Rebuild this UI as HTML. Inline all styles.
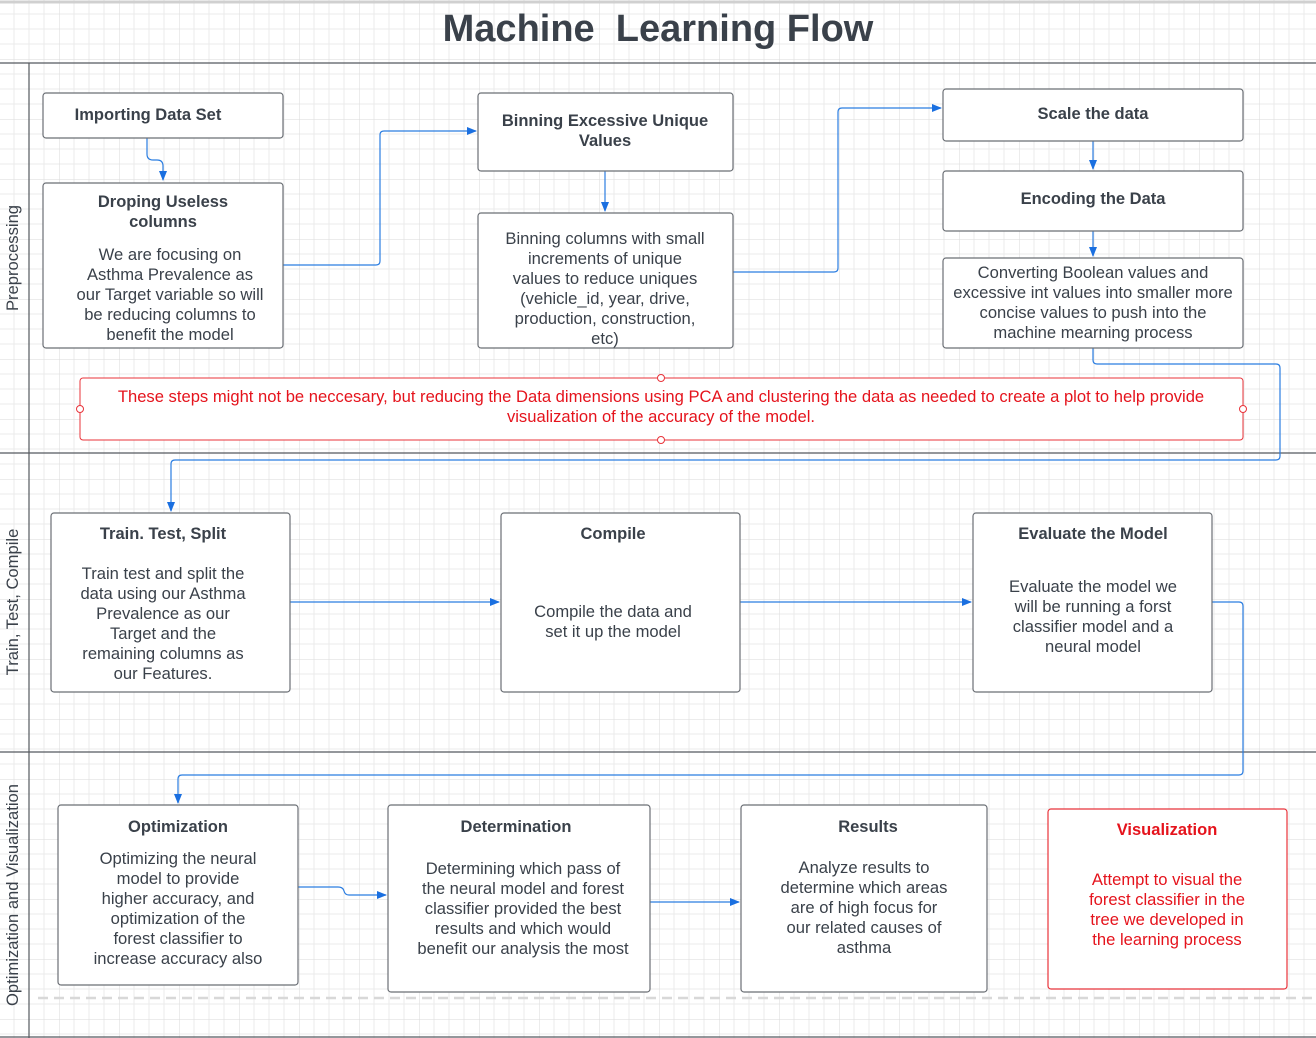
<!DOCTYPE html>
<html><head><meta charset="utf-8"><style>
html,body{margin:0;padding:0;background:#fff}
svg{display:block}
text{font-family:"Liberation Sans",Arial,sans-serif}
.t{font-weight:bold;font-size:16.5px;fill:#3a414a;text-anchor:middle}
.b{font-size:16.6px;fill:#3a414a;text-anchor:middle}
.box{fill:#fff;stroke:#6b6f75;stroke-width:1.2}
.c{fill:none;stroke:#2a7de1;stroke-width:1.2}
</style></head><body>
<svg width="1316" height="1038" viewBox="0 0 1316 1038" xmlns="http://www.w3.org/2000/svg">
<defs>
<pattern id="g" x="-1" y="-1" width="60" height="60" patternUnits="userSpaceOnUse">
<path d="M15 0V60M30 0V60M45 0V60M0 15H60M0 30H60M0 45H60" stroke="#ebebeb" stroke-width="1"/>
<path d="M0 0V60M0 0H60" stroke="#dadada" stroke-width="1"/>
</pattern>
<marker id="a" markerWidth="10" markerHeight="10" refX="9" refY="5" orient="auto" markerUnits="userSpaceOnUse"><path d="M0 1L10 5L0 9Z" fill="#1a6fe0"/></marker>
</defs>
<rect width="1316" height="1038" fill="url(#g)"/>
<line x1="0" y1="2" x2="1316" y2="2" stroke="#d0d0d0" stroke-width="3"/>
<text x="658" y="41" text-anchor="middle" font-size="38" font-weight="bold" fill="#3a414a" style="white-space:pre" xml:space="preserve">Machine  Learning Flow</text>
<g stroke="#55595f" stroke-width="1.2">
<line x1="0" y1="63" x2="1316" y2="63"/>
<line x1="0" y1="453" x2="1316" y2="453"/>
<line x1="0" y1="752" x2="1316" y2="752"/>
<line x1="0" y1="1037" x2="1316" y2="1037"/>
<line x1="29" y1="63" x2="29" y2="1038"/>
</g>
<line x1="38" y1="998" x2="1316" y2="998" stroke="#d8d8d8" stroke-width="2.5" stroke-dasharray="10,6"/>
<g font-size="16.6" fill="#3a414a" text-anchor="middle">
<text transform="translate(18,258) rotate(-90)">Preprocessing</text>
<text transform="translate(18,602) rotate(-90)">Train, Test, Compile</text>
<text transform="translate(18,895) rotate(-90)">Optimization and Visualization</text>
</g>
<path class="c" d="M147 138V154Q147 160 153 160H157Q163 160 163 166V180" marker-end="url(#a)"/>
<path class="c" d="M283 265H376Q380 265 380 261V135Q380 131 384 131H476" marker-end="url(#a)"/>
<path class="c" d="M605 171V211" marker-end="url(#a)"/>
<path class="c" d="M733 272H834Q838 272 838 268V112Q838 108 842 108H941" marker-end="url(#a)"/>
<path class="c" d="M1093 141V169" marker-end="url(#a)"/>
<path class="c" d="M1093 231V256" marker-end="url(#a)"/>
<path class="c" d="M1093 348V360Q1093 364 1097 364H1276Q1280 364 1280 368V456Q1280 460 1276 460H175Q171 460 171 464V511" marker-end="url(#a)"/>
<path class="c" d="M290 602H499" marker-end="url(#a)"/>
<path class="c" d="M740 602H971" marker-end="url(#a)"/>
<path class="c" d="M1212 602H1239Q1243 602 1243 606V771Q1243 775 1239 775H182Q178 775 178 779V803" marker-end="url(#a)"/>
<path class="c" d="M298 887H338Q343 887 344 891Q345 895 349 895H386" marker-end="url(#a)"/>
<path class="c" d="M650 902H739" marker-end="url(#a)"/>
<rect class="box" x="43" y="93" width="240" height="45" rx="3"/>
<text class="t" x="148" y="120">Importing Data Set</text>
<rect class="box" x="43" y="183" width="240" height="165" rx="3"/>
<text class="t" x="163" y="207">Droping Useless</text>
<text class="t" x="163" y="227">columns</text>
<text class="b" x="170" y="260">We are focusing on</text><text class="b" x="170" y="280">Asthma Prevalence as</text><text class="b" x="170" y="300">our Target variable so will</text><text class="b" x="170" y="320">be reducing columns to</text><text class="b" x="170" y="340">benefit the model</text>
<rect class="box" x="478" y="93" width="255" height="78" rx="3"/>
<text class="t" x="605" y="126">Binning Excessive Unique</text>
<text class="t" x="605" y="146">Values</text>
<rect class="box" x="478" y="213" width="255" height="135" rx="3"/>
<text class="b" x="605" y="244">Binning columns with small</text><text class="b" x="605" y="264">increments of unique</text><text class="b" x="605" y="284">values to reduce uniques</text><text class="b" x="605" y="304">(vehicle_id, year, drive,</text><text class="b" x="605" y="324">production, construction,</text><text class="b" x="605" y="344">etc)</text>
<rect class="box" x="943" y="89" width="300" height="52" rx="3"/>
<text class="t" x="1093" y="119">Scale the data</text>
<rect class="box" x="943" y="171" width="300" height="60" rx="3"/>
<text class="t" x="1093" y="204">Encoding the Data</text>
<rect class="box" x="943" y="258" width="300" height="90" rx="3"/>
<text class="b" x="1093" y="278">Converting Boolean values and</text><text class="b" x="1093" y="298">excessive int values into smaller more</text><text class="b" x="1093" y="318">concise values to push into the</text><text class="b" x="1093" y="338">machine mearning process</text>
<rect x="80" y="378" width="1163" height="62" rx="3" fill="#fff" stroke="#e8333a" stroke-width="1"/>
<g fill="#fff" stroke="#e8333a"><circle cx="661" cy="378" r="3.5"/><circle cx="661" cy="440" r="3.5"/><circle cx="80" cy="409" r="3.5"/><circle cx="1243" cy="409" r="3.5"/></g>
<text x="661" y="402" text-anchor="middle" font-size="16.6" fill="#e5131c">These steps might not be neccesary, but reducing the Data dimensions using PCA and clustering the data as needed to create a plot to help provide</text>
<text x="661" y="422" text-anchor="middle" font-size="16.6" fill="#e5131c">visualization of the accuracy of the model.</text>
<rect class="box" x="51" y="513" width="239" height="179" rx="3"/>
<text class="t" x="163" y="539">Train. Test, Split</text>
<text class="b" x="163" y="579">Train test and split the</text><text class="b" x="163" y="599">data using our Asthma</text><text class="b" x="163" y="619">Prevalence as our</text><text class="b" x="163" y="639">Target and the</text><text class="b" x="163" y="659">remaining columns as</text><text class="b" x="163" y="679">our Features.</text>
<rect class="box" x="501" y="513" width="239" height="179" rx="3"/>
<text class="t" x="613" y="539">Compile</text>
<text class="b" x="613" y="617">Compile the data and</text><text class="b" x="613" y="637">set it up the model</text>
<rect class="box" x="973" y="513" width="239" height="179" rx="3"/>
<text class="t" x="1093" y="539">Evaluate the Model</text>
<text class="b" x="1093" y="592">Evaluate the model we</text><text class="b" x="1093" y="612">will be running a forst</text><text class="b" x="1093" y="632">classifier model and a</text><text class="b" x="1093" y="652">neural model</text>
<rect class="box" x="58" y="805" width="240" height="180" rx="3"/>
<text class="t" x="178" y="832">Optimization</text>
<text class="b" x="178" y="864">Optimizing the neural</text><text class="b" x="178" y="884">model to provide</text><text class="b" x="178" y="904">higher accuracy, and</text><text class="b" x="178" y="924">optimization of the</text><text class="b" x="178" y="944">forest classifier to</text><text class="b" x="178" y="964">increase accuracy also</text>
<rect class="box" x="388" y="805" width="262" height="187" rx="3"/>
<text class="t" x="516" y="832">Determination</text>
<text class="b" x="523" y="874">Determining which pass of</text><text class="b" x="523" y="894">the neural model and forest</text><text class="b" x="523" y="914">classifier provided the best</text><text class="b" x="523" y="934">results and which would</text><text class="b" x="523" y="954">benefit our analysis the most</text>
<rect class="box" x="741" y="805" width="246" height="187" rx="3"/>
<text class="t" x="868" y="832">Results</text>
<text class="b" x="864" y="873">Analyze results to</text><text class="b" x="864" y="893">determine which areas</text><text class="b" x="864" y="913">are of high focus for</text><text class="b" x="864" y="933">our related causes of</text><text class="b" x="864" y="953">asthma</text>
<rect x="1048" y="809" width="239" height="180" rx="3" fill="#fff" stroke="#e8333a" stroke-width="1.2"/>
<text x="1167" y="835" text-anchor="middle" font-size="16.5" font-weight="bold" fill="#e5131c">Visualization</text>
<g font-size="16.6" fill="#e5131c" text-anchor="middle"><text x="1167" y="885">Attempt to visual the</text><text x="1167" y="905">forest classifier in the</text><text x="1167" y="925">tree we developed in</text><text x="1167" y="945">the learning process</text></g>
</svg>
</body></html>
